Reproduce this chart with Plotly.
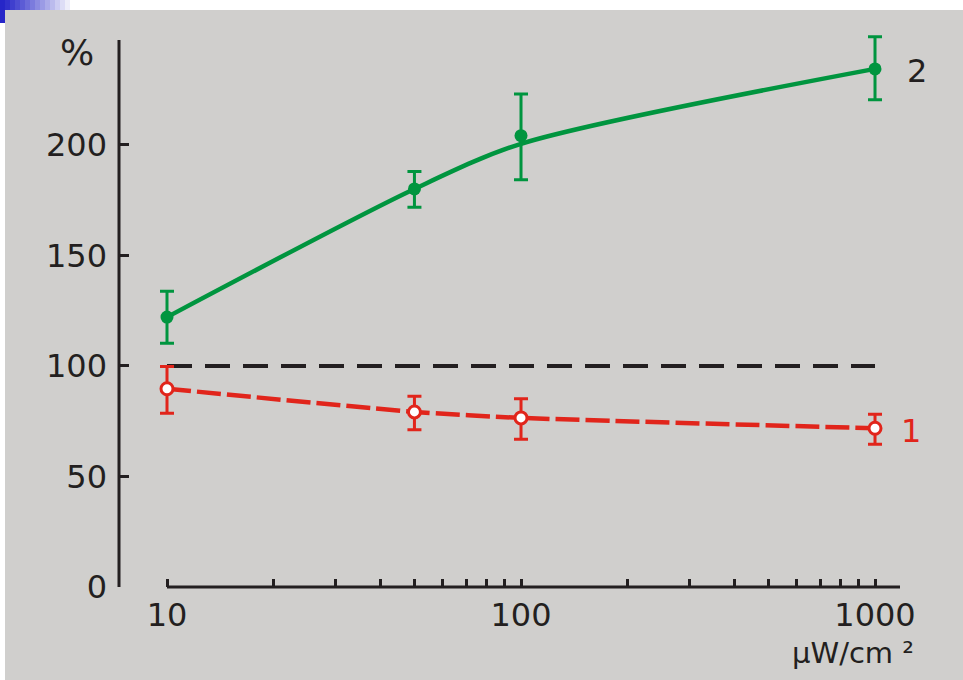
import numpy as np
import plotly.graph_objects as go

# ---- data ----
intensity = [10, 50, 100, 1000]

green_mean = [122.1, 180.1, 204.2, 234.4]
green_err_plus = [11.7, 7.9, 18.8, 14.5]
green_err_minus = [11.8, 8.3, 19.9, 14.0]
green_fit = [122.1, 180.1, 200.5, 234.4]

red_mean = [89.7, 79.2, 76.5, 71.8]
red_err_plus = [10.1, 7.1, 8.7, 6.3]
red_err_minus = [11.1, 8.0, 9.7, 7.2]

control_x = [10, 1000]
control_y = [100, 100]

y_ticks = [0, 50, 100, 150, 200]
y_axis_top = 247.5
x_ticks = [10, 20, 30, 40, 50, 60, 70, 80, 90,
           100, 200, 300, 400, 500, 600, 700, 800, 900, 1000]
x_labels = {10: "10", 100: "100", 1000: "1000"}

# ---- style ----
W, H = 963, 680
ML, MR, MT, MB = 119, 63, 30, 93
PW, PH = W - ML - MR, H - MT - MB
GREEN = "#00953f"
RED = "#e1251b"
INK = "#231f20"
BG = "#d0cfcd"
FONT = "DejaVu Sans"
x_range = [0.8644, 3.0706]
y_range = [0, 252.0]


def px(xpix):
    return (xpix - ML) / PW


def py(ypix):
    return (H - MB - ypix) / PH


fig = go.Figure()

# control 100% dashed line
fig.add_trace(go.Scatter(x=control_x, y=control_y, mode="lines",
                         line=dict(color=INK, width=4, dash="25px,13px"),
                         hoverinfo="skip", showlegend=False))

# green fitted curve
fig.add_trace(go.Scatter(x=intensity, y=green_fit, mode="lines",
                         line=dict(color=GREEN, width=4.5, shape="spline", smoothing=0.8),
                         hoverinfo="skip", showlegend=False))
# green points
fig.add_trace(go.Scatter(x=intensity, y=green_mean, mode="markers",
                         marker=dict(color=GREEN, size=13, line=dict(width=0)),
                         error_y=dict(type="data", array=green_err_plus,
                                      arrayminus=green_err_minus, color=GREEN,
                                      thickness=3, width=7),
                         cliponaxis=False, showlegend=False))

# red line
fig.add_trace(go.Scatter(x=intensity, y=red_mean, mode="lines",
                         line=dict(color=RED, width=4.5, dash="24px,6px",
                                   shape="spline", smoothing=0.5),
                         hoverinfo="skip", showlegend=False))
fig.add_trace(go.Scatter(x=intensity, y=red_mean, mode="markers",
                         marker=dict(color="white", size=12,
                                     line=dict(color=RED, width=3)),
                         error_y=dict(type="data", array=red_err_plus,
                                      arrayminus=red_err_minus, color=RED,
                                      thickness=3, width=7),
                         cliponaxis=False, showlegend=False))

shapes = []
# x-axis line starting at 10
shapes.append(dict(type="line", xref="x", yref="paper",
                   x0=x_ticks[0], x1=10 ** x_range[1], y0=0, y1=0,
                   line=dict(color=INK, width=3), layer="above"))
# y-axis line up to its top value
shapes.append(dict(type="line", xref="paper", yref="y",
                   x0=0, x1=0, y0=0, y1=y_axis_top,
                   line=dict(color=INK, width=3), layer="above"))
# white slide margins
shapes.append(dict(type="rect", xref="paper", yref="paper",
                   x0=px(0), x1=px(W), y0=py(10), y1=py(0),
                   fillcolor="white", line=dict(width=0), layer="below"))
shapes.append(dict(type="rect", xref="paper", yref="paper",
                   x0=px(0), x1=px(5), y0=py(H), y1=py(0),
                   fillcolor="white", line=dict(width=0), layer="below"))
# blue gradient ornament
n = 15
c0 = np.array([38, 38, 200])
c1 = np.array([255, 255, 255])
for i in range(n):
    t = i / (n - 1)
    c = (c0 + (c1 - c0) * t ** 1.1).astype(int)
    shapes.append(dict(type="rect", xref="paper", yref="paper",
                       x0=px(i * 5), x1=px(i * 5 + 5), y0=py(10), y1=py(0),
                       fillcolor=f"rgb({c[0]},{c[1]},{c[2]})",
                       line=dict(width=0), layer="below"))
shapes.append(dict(type="rect", xref="paper", yref="paper",
                   x0=px(0), x1=px(5), y0=py(23), y1=py(10),
                   fillcolor="rgb(38,38,200)", line=dict(width=0), layer="below"))

annotations = [
    dict(text="%", x=px(77), y=py(52), xref="paper", yref="paper",
         xanchor="center", yanchor="middle",
         showarrow=False, font=dict(family=FONT, size=36, color=INK)),
    dict(text="2", x=px(917), y=py(71), xref="paper", yref="paper",
         xanchor="center", yanchor="middle",
         showarrow=False, font=dict(family=FONT, size=32, color=INK)),
    dict(text="1", x=px(911), y=py(431), xref="paper", yref="paper",
         xanchor="center", yanchor="middle",
         showarrow=False, font=dict(family=FONT, size=32, color=RED)),
    dict(text="µW/cm ²", x=px(916), y=py(653), xref="paper", yref="paper",
         xanchor="right", yanchor="middle", showarrow=False,
         font=dict(family=FONT, size=29, color=INK)),
]

fig.update_layout(
    width=W, height=H,
    margin=dict(l=ML, r=MR, t=MT, b=MB, pad=0),
    paper_bgcolor=BG, plot_bgcolor=BG,
    showlegend=False,
    shapes=shapes,
    annotations=annotations,
    xaxis=dict(type="log", range=x_range, showgrid=False, zeroline=False,
               showline=False, ticks="inside", ticklen=8, tickwidth=2.5,
               tickcolor=INK, tickvals=x_ticks,
               ticktext=[x_labels.get(v, "") for v in x_ticks],
               tickfont=dict(family=FONT, size=32, color=INK),
               ticklabelstandoff=6),
    yaxis=dict(range=y_range, showgrid=False, zeroline=False,
               showline=False,
               ticks="inside", ticklen=10, tickwidth=2.5, tickcolor=INK,
               tickvals=y_ticks,
               tickfont=dict(family=FONT, size=32, color=INK),
               ticklabelstandoff=11),
)

fig.write_html("out.html")
